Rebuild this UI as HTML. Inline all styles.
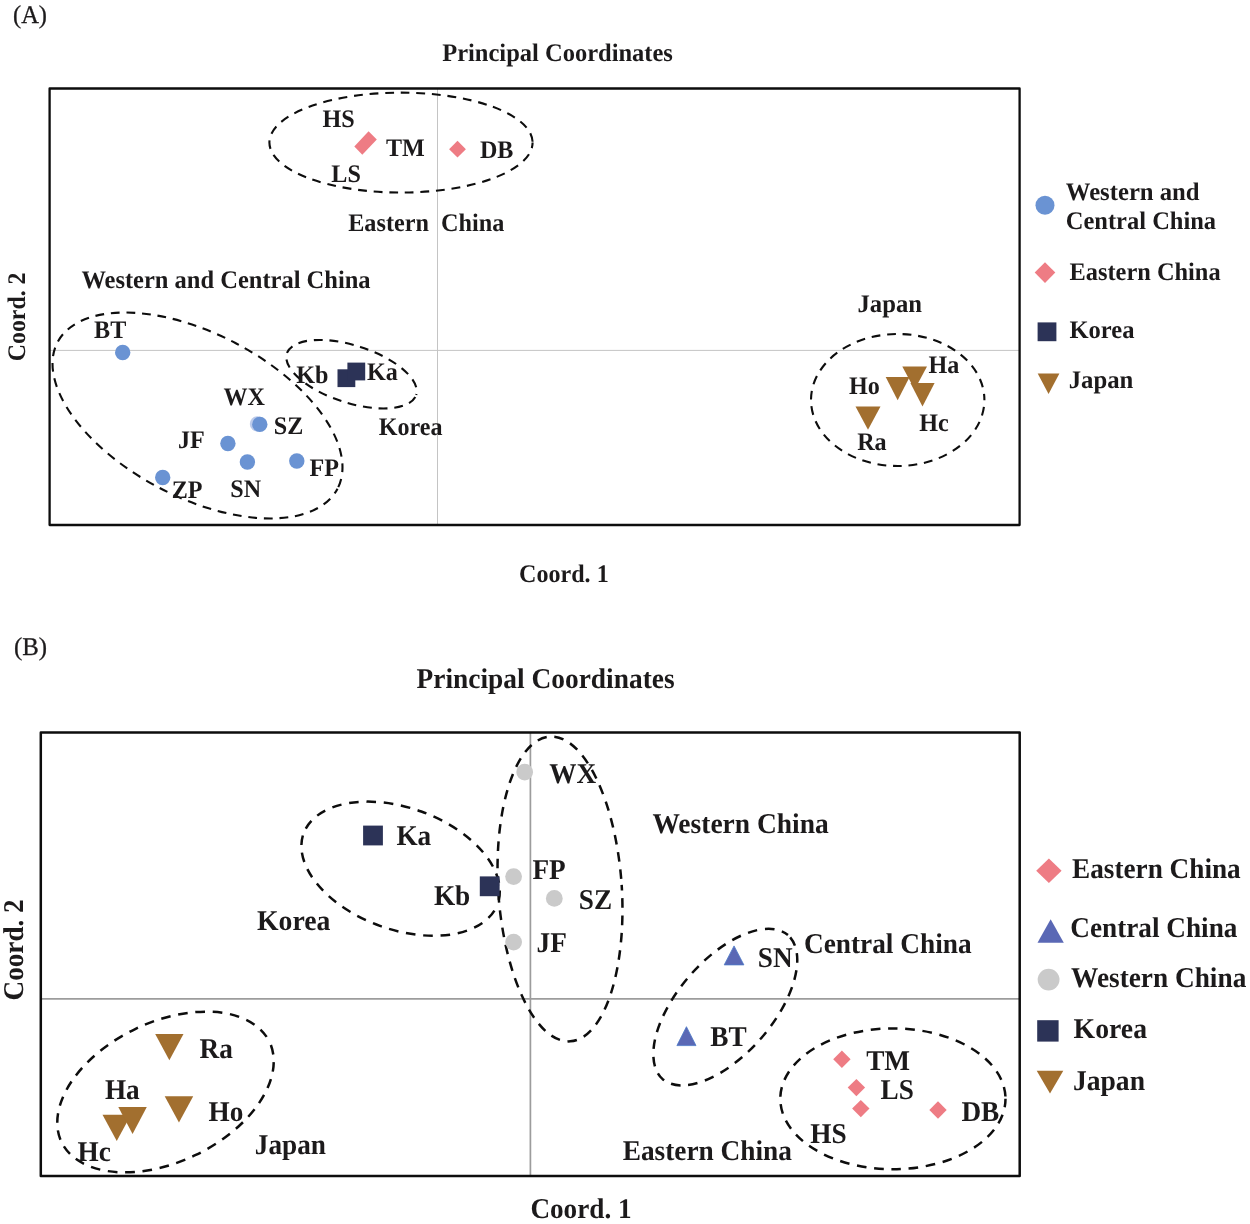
<!DOCTYPE html>
<html><head><meta charset="utf-8"><title>Principal Coordinates</title>
<style>html,body{margin:0;padding:0;background:#fff}svg{display:block}text{text-rendering:geometricPrecision;font-family:'Liberation Serif', 'Times New Roman', serif;fill:#1c1a1b}</style>
</head><body>
<svg width="1250" height="1224" viewBox="0 0 1250 1224">
<rect width="1250" height="1224" fill="#fff"/>
<text x="13.0" y="22.7" font-size="25.5" font-weight="normal" text-anchor="start" textLength="34.0" lengthAdjust="spacingAndGlyphs" stroke="#1c1a1b" stroke-width="0.3">(A)</text>
<text x="442.2" y="60.7" font-size="25.3" font-weight="bold" text-anchor="start" textLength="230.7" lengthAdjust="spacingAndGlyphs">Principal Coordinates</text>
<line x1="50" y1="350.4" x2="1020" y2="350.4" stroke="#c4c4c4" stroke-width="1"/>
<line x1="437.5" y1="89" x2="437.5" y2="525" stroke="#c4c4c4" stroke-width="1"/>
<rect x="49.6" y="88.5" width="970" height="436.5" fill="none" stroke="#0d0d0d" stroke-width="2.3" stroke-linejoin="round"/>
<text transform="translate(25.4 360.6) rotate(-90)" x="-0.60" font-size="25.3" font-weight="bold" textLength="88.7" lengthAdjust="spacingAndGlyphs">Coord. 2</text>
<text x="519.0" y="582.4" font-size="25.3" font-weight="bold" text-anchor="start" textLength="89.7" lengthAdjust="spacingAndGlyphs">Coord. 1</text>
<path d="M532.60,142.60 A131.6,50 0 0 1 269.40,142.60 A131.6,50 0 0 1 532.60,142.60Z" fill="none" stroke="#0d0d0d" stroke-width="2.1" stroke-dasharray="8.8 6.8" stroke-dashoffset="3.21"/>
<path d="M337.52,488.70 A158,82 27.6 0 1 57.48,342.30 A158,82 27.6 0 1 337.52,488.70Z" fill="none" stroke="#0d0d0d" stroke-width="2.1" stroke-dasharray="8.8 6.8" stroke-dashoffset="3.18"/>
<path d="M416.24,394.99 A68,29 17.8 0 1 286.76,353.41 A68,29 17.8 0 1 416.24,394.99Z" fill="none" stroke="#0d0d0d" stroke-width="2.1" stroke-dasharray="8.8 6.8" stroke-dashoffset="13.28"/>
<path d="M984.40,400.00 A86.7,66 0 0 1 811.00,400.00 A86.7,66 0 0 1 984.40,400.00Z" fill="none" stroke="#0d0d0d" stroke-width="2.1" stroke-dasharray="8.8 6.8" stroke-dashoffset="8.58"/>
<circle cx="257.5" cy="423.9" r="7.7" fill="#bccbeb"/>
<circle cx="122.7" cy="352.5" r="7.7" fill="#6a93d3"/>
<circle cx="259.8" cy="424.4" r="7.7" fill="#6a93d3"/>
<circle cx="227.9" cy="443.5" r="7.7" fill="#6a93d3"/>
<circle cx="247.4" cy="462" r="7.7" fill="#6a93d3"/>
<circle cx="296.8" cy="461" r="7.7" fill="#6a93d3"/>
<circle cx="162.7" cy="477.5" r="7.7" fill="#6a93d3"/>
<polygon points="368.6,131.3 376.8,139.5 362.3,154.7 354.3,146.5" fill="#ee7c84"/>
<polygon points="457.5,140.79999999999998 465.9,149.2 457.5,157.6 449.1,149.2" fill="#ee7c84"/>
<rect x="337.5" y="369.3" width="17.8" height="17.8" fill="#2c3357"/>
<rect x="347.4" y="362.6" width="17.8" height="17.8" fill="#2c3357"/>
<polygon points="902.3,366.4 927,366.4 914.65,389.5" fill="#a26f2f"/>
<polygon points="885.7,377 909.6,377 897.6500000000001,400.3" fill="#a26f2f"/>
<polygon points="910.4,383 934.6,383 922.5,406.5" fill="#a26f2f"/>
<polygon points="855.5,406.5 880.5,406.5 868.0,429.7" fill="#a26f2f"/>
<text x="322.5" y="127.3" font-size="25.3" font-weight="bold" text-anchor="start" textLength="32.2" lengthAdjust="spacingAndGlyphs">HS</text>
<text x="385.9" y="155.9" font-size="25.3" font-weight="bold" text-anchor="start" textLength="38.8" lengthAdjust="spacingAndGlyphs">TM</text>
<text x="331.3" y="181.5" font-size="25.3" font-weight="bold" text-anchor="start" textLength="29.5" lengthAdjust="spacingAndGlyphs">LS</text>
<text x="479.9" y="158.2" font-size="25.3" font-weight="bold" text-anchor="start" textLength="33.5" lengthAdjust="spacingAndGlyphs">DB</text>
<text x="348.2" y="231.4" font-size="25.3" font-weight="bold" text-anchor="start" textLength="156.1" lengthAdjust="spacingAndGlyphs">Eastern&#160;&#160;China</text>
<text x="81.4" y="287.8" font-size="25.3" font-weight="bold" text-anchor="start" textLength="289.2" lengthAdjust="spacingAndGlyphs">Western and Central China</text>
<text x="94.1" y="337.8" font-size="25.3" font-weight="bold" text-anchor="start" textLength="32.2" lengthAdjust="spacingAndGlyphs">BT</text>
<text x="223.4" y="405.0" font-size="25.3" font-weight="bold" text-anchor="start" textLength="41.5" lengthAdjust="spacingAndGlyphs">WX</text>
<text x="273.8" y="433.5" font-size="25.3" font-weight="bold" text-anchor="start" textLength="29.5" lengthAdjust="spacingAndGlyphs">SZ</text>
<text x="177.9" y="448.0" font-size="25.3" font-weight="bold" text-anchor="start" textLength="26.8" lengthAdjust="spacingAndGlyphs">JF</text>
<text x="309.6" y="475.5" font-size="25.3" font-weight="bold" text-anchor="start" textLength="29.5" lengthAdjust="spacingAndGlyphs">FP</text>
<text x="171.7" y="498.4" font-size="25.3" font-weight="bold" text-anchor="start" textLength="30.8" lengthAdjust="spacingAndGlyphs">ZP</text>
<text x="230.3" y="497.4" font-size="25.3" font-weight="bold" text-anchor="start" textLength="30.8" lengthAdjust="spacingAndGlyphs">SN</text>
<text x="296.2" y="383.1" font-size="25.3" font-weight="bold" text-anchor="start" textLength="32.2" lengthAdjust="spacingAndGlyphs">Kb</text>
<text x="367.1" y="379.8" font-size="25.3" font-weight="bold" text-anchor="start" textLength="30.8" lengthAdjust="spacingAndGlyphs">Ka</text>
<text x="378.7" y="435.4" font-size="25.3" font-weight="bold" text-anchor="start" textLength="63.8" lengthAdjust="spacingAndGlyphs">Korea</text>
<text x="857.5" y="312.4" font-size="25.3" font-weight="bold" text-anchor="start" textLength="64.5" lengthAdjust="spacingAndGlyphs">Japan</text>
<text x="928.4" y="373.0" font-size="25.3" font-weight="bold" text-anchor="start" textLength="30.8" lengthAdjust="spacingAndGlyphs">Ha</text>
<text x="848.9" y="393.5" font-size="25.3" font-weight="bold" text-anchor="start" textLength="30.8" lengthAdjust="spacingAndGlyphs">Ho</text>
<text x="919.2" y="431.2" font-size="25.3" font-weight="bold" text-anchor="start" textLength="29.5" lengthAdjust="spacingAndGlyphs">Hc</text>
<text x="857.2" y="449.9" font-size="25.3" font-weight="bold" text-anchor="start" textLength="29.5" lengthAdjust="spacingAndGlyphs">Ra</text>
<text x="1065.8" y="200.3" font-size="25.3" font-weight="bold" text-anchor="start" textLength="133.8" lengthAdjust="spacingAndGlyphs">Western and</text>
<text x="1065.8" y="229.0" font-size="25.3" font-weight="bold" text-anchor="start" textLength="150.3" lengthAdjust="spacingAndGlyphs">Central China</text>
<text x="1069.5" y="279.8" font-size="25.3" font-weight="bold" text-anchor="start" textLength="151.1" lengthAdjust="spacingAndGlyphs">Eastern China</text>
<text x="1069.5" y="337.6" font-size="25.3" font-weight="bold" text-anchor="start" textLength="65.0" lengthAdjust="spacingAndGlyphs">Korea</text>
<text x="1068.7" y="388.4" font-size="25.3" font-weight="bold" text-anchor="start" textLength="64.7" lengthAdjust="spacingAndGlyphs">Japan</text>
<circle cx="1045" cy="205.2" r="9.5" fill="#6a93d3"/>
<polygon points="1045,262.3 1055.3,272.6 1045,282.90000000000003 1034.7,272.6" fill="#ee7c84"/>
<rect x="1037.6" y="322.4" width="18.8" height="18.8" fill="#2c3357"/>
<polygon points="1037.7,373.4 1059.4,373.4 1048.5500000000002,394" fill="#a26f2f"/>
<text x="13.9" y="654.9" font-size="25.5" font-weight="normal" text-anchor="start" textLength="33.1" lengthAdjust="spacingAndGlyphs" stroke="#1c1a1b" stroke-width="0.3">(B)</text>
<text x="416.6" y="687.8" font-size="28.6" font-weight="bold" text-anchor="start" textLength="258.0" lengthAdjust="spacingAndGlyphs">Principal Coordinates</text>
<line x1="41" y1="998.8" x2="1020" y2="998.8" stroke="#9c9c9c" stroke-width="1.7"/>
<line x1="530.4" y1="732.4" x2="530.4" y2="1175.8" stroke="#9c9c9c" stroke-width="1.7"/>
<rect x="40.8" y="732.5" width="978.9" height="443.5" fill="none" stroke="#0d0d0d" stroke-width="2.5" stroke-linejoin="round"/>
<text transform="translate(23 999.8) rotate(-90)" x="-0.60" font-size="28.6" font-weight="bold" textLength="101.0" lengthAdjust="spacingAndGlyphs">Coord. 2</text>
<text x="530.4" y="1218.2" font-size="28.6" font-weight="bold" text-anchor="start" textLength="101.2" lengthAdjust="spacingAndGlyphs">Coord. 1</text>
<path d="M497.73,903.86 A103.3,61.2 19.9 0 1 303.47,833.54 A103.3,61.2 19.9 0 1 497.73,903.86Z" fill="none" stroke="#0d0d0d" stroke-width="2.5" stroke-dasharray="9.6 7.7" stroke-dashoffset="9.73"/>
<path d="M621.66,884.85 A61.8,153.3 -3.85 0 1 498.34,893.15 A61.8,153.3 -3.85 0 1 621.66,884.85Z" fill="none" stroke="#0d0d0d" stroke-width="2.5" stroke-dasharray="9.6 7.7" stroke-dashoffset="3.84"/>
<path d="M269.57,1041.91 A115.5,70.4 -25.7 0 1 61.43,1142.09 A115.5,70.4 -25.7 0 1 269.57,1041.91Z" fill="none" stroke="#0d0d0d" stroke-width="2.5" stroke-dasharray="9.6 7.7" stroke-dashoffset="13.82"/>
<path d="M787.95,935.03 A95.5,48.0 -49 0 1 662.65,1079.17 A95.5,48.0 -49 0 1 787.95,935.03Z" fill="none" stroke="#0d0d0d" stroke-width="2.5" stroke-dasharray="9.6 7.7" stroke-dashoffset="13.96"/>
<path d="M1005.50,1098.80 A112.6,70.4 0 0 1 780.30,1098.80 A112.6,70.4 0 0 1 1005.50,1098.80Z" fill="none" stroke="#0d0d0d" stroke-width="2.5" stroke-dasharray="9.6 7.7" stroke-dashoffset="0.97"/>
<circle cx="524.7" cy="772.1" r="8.4" fill="#cacaca"/>
<circle cx="513.6" cy="876.6" r="8.4" fill="#cacaca"/>
<circle cx="554.3" cy="898.4" r="8.4" fill="#cacaca"/>
<circle cx="513.6" cy="942.1" r="8.4" fill="#cacaca"/>
<rect x="363.1" y="825.6" width="19.8" height="19.8" fill="#2c3357"/>
<rect x="479.8" y="876.4" width="19.8" height="19.8" fill="#2c3357"/>
<polygon points="155.2,1034.1 183.5,1034.1 169.35,1060.3" fill="#a26f2f"/>
<polygon points="164.7,1096.3 193.2,1096.3 178.95,1122.5" fill="#a26f2f"/>
<polygon points="102.5,1114.7 131,1114.7 116.75,1141" fill="#a26f2f"/>
<polygon points="118.3,1107 146.8,1107 132.55,1133.9" fill="#a26f2f"/>
<polygon points="724.2,964.9 743.9,964.9 734.05,945.9" fill="#5a68b5" stroke="#4d7ac6" stroke-width="0.8"/>
<polygon points="676.9,1045.6 696,1045.6 686.45,1026.7" fill="#5a68b5" stroke="#4d7ac6" stroke-width="0.8"/>
<polygon points="841.9,1050.6 850.6,1059.3 841.9,1068.0 833.1999999999999,1059.3" fill="#ee7c84"/>
<polygon points="856.4,1078.8999999999999 865.1,1087.6 856.4,1096.3 847.6999999999999,1087.6" fill="#ee7c84"/>
<polygon points="860.8,1099.8999999999999 869.5,1108.6 860.8,1117.3 852.0999999999999,1108.6" fill="#ee7c84"/>
<polygon points="938,1101.3 946.7,1110 938,1118.7 929.3,1110" fill="#ee7c84"/>
<text x="549.3" y="782.6" font-size="28.6" font-weight="bold" text-anchor="start" textLength="46.9" lengthAdjust="spacingAndGlyphs">WX</text>
<text x="396.4" y="845.4" font-size="28.6" font-weight="bold" text-anchor="start" textLength="34.8" lengthAdjust="spacingAndGlyphs">Ka</text>
<text x="532.4" y="879.0" font-size="28.6" font-weight="bold" text-anchor="start" textLength="33.3" lengthAdjust="spacingAndGlyphs">FP</text>
<text x="433.9" y="904.5" font-size="28.6" font-weight="bold" text-anchor="start" textLength="36.4" lengthAdjust="spacingAndGlyphs">Kb</text>
<text x="578.8" y="908.6" font-size="28.6" font-weight="bold" text-anchor="start" textLength="33.3" lengthAdjust="spacingAndGlyphs">SZ</text>
<text x="536.6" y="952.3" font-size="28.6" font-weight="bold" text-anchor="start" textLength="30.3" lengthAdjust="spacingAndGlyphs">JF</text>
<text x="257.0" y="930.4" font-size="28.6" font-weight="bold" text-anchor="start" textLength="73.4" lengthAdjust="spacingAndGlyphs">Korea</text>
<text x="199.6" y="1058.0" font-size="28.6" font-weight="bold" text-anchor="start" textLength="33.3" lengthAdjust="spacingAndGlyphs">Ra</text>
<text x="104.9" y="1099.0" font-size="28.6" font-weight="bold" text-anchor="start" textLength="34.8" lengthAdjust="spacingAndGlyphs">Ha</text>
<text x="208.5" y="1120.8" font-size="28.6" font-weight="bold" text-anchor="start" textLength="34.8" lengthAdjust="spacingAndGlyphs">Ho</text>
<text x="77.6" y="1160.5" font-size="28.6" font-weight="bold" text-anchor="start" textLength="33.3" lengthAdjust="spacingAndGlyphs">Hc</text>
<text x="254.8" y="1153.8" font-size="28.6" font-weight="bold" text-anchor="start" textLength="71.1" lengthAdjust="spacingAndGlyphs">Japan</text>
<text x="652.4" y="832.8" font-size="28.6" font-weight="bold" text-anchor="start" textLength="176.3" lengthAdjust="spacingAndGlyphs">Western China</text>
<text x="804.0" y="953.2" font-size="28.6" font-weight="bold" text-anchor="start" textLength="167.6" lengthAdjust="spacingAndGlyphs">Central China</text>
<text x="757.8" y="966.5" font-size="28.6" font-weight="bold" text-anchor="start" textLength="34.8" lengthAdjust="spacingAndGlyphs">SN</text>
<text x="710.2" y="1046.3" font-size="28.6" font-weight="bold" text-anchor="start" textLength="36.4" lengthAdjust="spacingAndGlyphs">BT</text>
<text x="866.2" y="1069.5" font-size="28.6" font-weight="bold" text-anchor="start" textLength="43.9" lengthAdjust="spacingAndGlyphs">TM</text>
<text x="880.6" y="1098.5" font-size="28.6" font-weight="bold" text-anchor="start" textLength="33.3" lengthAdjust="spacingAndGlyphs">LS</text>
<text x="961.4" y="1121.4" font-size="28.6" font-weight="bold" text-anchor="start" textLength="37.9" lengthAdjust="spacingAndGlyphs">DB</text>
<text x="810.2" y="1143.1" font-size="28.6" font-weight="bold" text-anchor="start" textLength="36.4" lengthAdjust="spacingAndGlyphs">HS</text>
<text x="622.7" y="1159.9" font-size="28.6" font-weight="bold" text-anchor="start" textLength="169.3" lengthAdjust="spacingAndGlyphs">Eastern China</text>
<text x="1072.1" y="877.5" font-size="28.6" font-weight="bold" text-anchor="start" textLength="168.6" lengthAdjust="spacingAndGlyphs">Eastern China</text>
<text x="1070.3" y="937.0" font-size="28.6" font-weight="bold" text-anchor="start" textLength="167.1" lengthAdjust="spacingAndGlyphs">Central China</text>
<text x="1071.1" y="986.9" font-size="28.6" font-weight="bold" text-anchor="start" textLength="175.2" lengthAdjust="spacingAndGlyphs">Western China</text>
<text x="1073.6" y="1038.3" font-size="28.6" font-weight="bold" text-anchor="start" textLength="73.4" lengthAdjust="spacingAndGlyphs">Korea</text>
<text x="1072.9" y="1090.4" font-size="28.6" font-weight="bold" text-anchor="start" textLength="72.1" lengthAdjust="spacingAndGlyphs">Japan</text>
<polygon points="1048.9,858.5 1061.6000000000001,870.7 1048.9,882.9000000000001 1036.2,870.7" fill="#ee7c84"/>
<polygon points="1037.5,942.8 1063.8,942.8 1050.65,919.3" fill="#5a68b5"/>
<circle cx="1048.6" cy="979.6" r="10.9" fill="#cacaca"/>
<rect x="1037.2" y="1020.2" width="21.4" height="21.4" fill="#2c3357"/>
<polygon points="1036.7,1070.8 1063.3,1070.8 1050.0,1093.6" fill="#a26f2f"/>
</svg>
</body></html>
